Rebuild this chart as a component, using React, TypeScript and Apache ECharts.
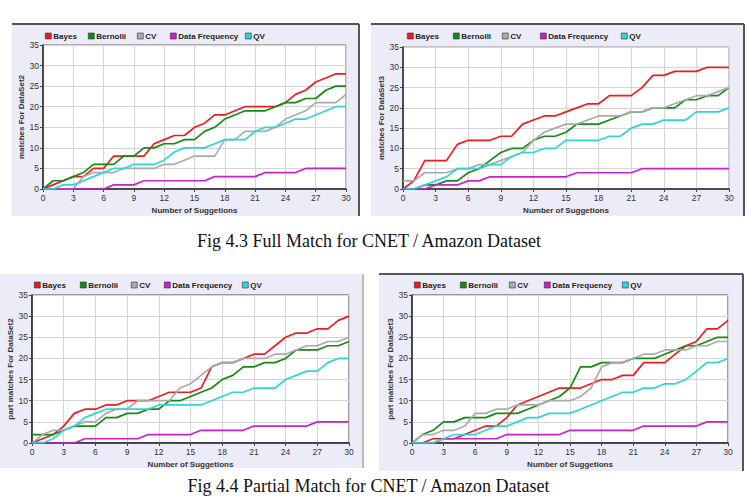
import React, { useEffect, useRef } from "react";
import * as echarts from "echarts";

const seriesNames = ["Bayes", "Bernolli", "CV", "Data Frequency", "QV"];
const seriesColors = ["#ee1c1c", "#158a15", "#aaaaaa", "#cc1fcc", "#2cd6d6"];
const suggestions = Array.from({ length: 31 }, (_, i) => i);

const xAxisName = "Number of Suggetions";
const yAxisNames = [
  "matches For DataSet2",
  "matches For DataSet3",
  "part matches For DataSet2",
  "part matches For DataSet3",
];
const captions = [
  "Fig 4.3 Full Match for CNET / Amazon Dataset",
  "Fig 4.4 Partial Match for CNET / Amazon Dataset",
];

// Fig 4.3 left: full matches, DataSet2
const fullDs2Bayes = [0,1,2,3,3,5,5,8,8,8,8,11,12,13,13,15,16,18,18,19,20,20,20,20,21,23,24,26,27,28,28];
const fullDs2Bernolli = [0,2,2,3,4,6,6,6,8,8,10,10,11,11,12,12,14,15,17,18,19,19,19,20,21,21,22,22,24,25,25];
const fullDs2CV = [0,0,0,0,3,4,4,4,5,5,5,5,6,6,7,8,8,8,12,12,14,14,14,15,17,18,19,21,21,21,23];
const fullDs2DataFreq = [0,0,0,0,0,0,0,1,1,1,2,2,2,2,2,2,2,3,3,3,3,3,4,4,4,4,5,5,5,5,5];
const fullDs2QV = [0,0,1,1,2,3,4,5,5,6,6,6,7,9,10,10,10,11,12,12,12,14,15,15,16,17,17,18,19,20,20];

// Fig 4.3 right: full matches, DataSet3
const fullDs3Bayes = [0,2,7,7,7,11,12,12,12,13,13,16,17,18,18,19,20,21,21,23,23,23,25,28,28,29,29,29,30,30,30];
const fullDs3Bernolli = [0,0,1,1,2,2,4,5,7,9,10,10,12,13,13,14,16,16,16,17,18,19,19,20,20,20,22,22,23,23,25];
const fullDs3CV = [2,2,4,4,4,5,5,6,6,7,8,9,12,14,15,16,16,17,18,18,18,19,19,20,20,21,22,23,23,24,25];
const fullDs3DataFreq = [0,0,0,1,1,1,2,2,3,3,3,3,3,3,3,3,4,4,4,4,4,4,5,5,5,5,5,5,5,5,5];
const fullDs3QV = [0,0,1,2,3,5,5,5,6,6,8,9,9,10,10,12,12,12,12,13,13,15,16,16,17,17,17,19,19,19,20];

// Fig 4.4 left: partial matches, DataSet2
const partDs2Bayes = [0,1,2,4,7,8,8,9,9,10,10,10,11,12,12,12,13,18,19,19,20,21,21,23,25,26,26,27,27,29,30];
const partDs2Bernolli = [2,2,2,3,4,4,4,6,6,7,7,8,8,10,10,11,12,13,15,16,18,18,19,19,20,22,22,22,23,23,24];
const partDs2CV = [0,2,3,3,4,5,5,7,8,8,10,10,10,10,13,14,16,18,19,19,20,20,20,21,21,22,23,23,24,24,25];
const partDs2DataFreq = [0,0,0,0,0,1,1,1,1,1,1,2,2,2,2,2,3,3,3,3,3,4,4,4,4,4,4,5,5,5,5];
const partDs2QV = [0,0,1,3,4,6,7,8,8,8,8,8,9,9,9,9,9,10,11,12,12,13,13,13,15,16,17,17,19,20,20];

// Fig 4.4 right: partial matches, DataSet3
const partDs3Bayes = [0,0,1,1,1,2,3,4,4,6,9,10,11,12,13,13,13,14,15,15,16,16,19,19,19,21,23,24,27,27,29];
const partDs3Bernolli = [0,2,3,5,5,6,6,6,7,7,7,8,9,10,11,13,18,18,19,19,19,20,20,20,21,22,23,23,24,25,25];
const partDs3CV = [0,2,2,3,3,4,7,7,8,8,9,9,9,10,10,10,11,13,18,19,19,20,21,21,22,22,22,23,23,24,24];
const partDs3DataFreq = [0,0,0,1,1,1,1,1,1,2,2,2,2,2,2,3,3,3,3,3,3,3,4,4,4,4,4,4,5,5,5];
const partDs3QV = [0,0,0,1,2,2,2,3,4,4,5,6,6,7,7,7,8,9,10,11,12,12,13,13,14,14,15,17,19,19,20];

const panelData = [
  [fullDs2Bayes, fullDs2Bernolli, fullDs2CV, fullDs2DataFreq, fullDs2QV],
  [fullDs3Bayes, fullDs3Bernolli, fullDs3CV, fullDs3DataFreq, fullDs3QV],
  [partDs2Bayes, partDs2Bernolli, partDs2CV, partDs2DataFreq, partDs2QV],
  [partDs3Bayes, partDs3Bernolli, partDs3CV, partDs3DataFreq, partDs3QV],
];

// layout (positions only)
const gridLayouts = [
  { left: 43, top: 45, width: 303, height: 144, yNameGap: 12, gridBorder: "#666" },
  { left: 403, top: 47, width: 326, height: 142, yNameGap: 14, gridBorder: "#999" },
  { left: 32, top: 295, width: 317, height: 148, yNameGap: 13, gridBorder: "#444" },
  { left: 412, top: 295, width: 316, height: 148, yNameGap: 14, gridBorder: "#444" },
];
const legendLayouts = [
  { xs: [45, 88, 137, 170, 245], cy: 37 },
  { xs: [407, 453, 502, 540, 621], cy: 37 },
  { xs: [34, 80, 131, 164, 242], cy: 286 },
  { xs: [414, 460, 509, 544, 622], cy: 286 },
];
const panelRects = [
  { x: 12, y: 24, w: 347, h: 192 },
  { x: 371, y: 24, w: 373, h: 192 },
  { x: 0, y: 274, w: 363, h: 194 },
  { x: 379, y: 274, w: 364, h: 197 },
];

const FONT = "'Liberation Sans', Arial, sans-serif";
const SERIF = "18px 'Liberation Serif', 'Times New Roman', serif";

export default function App() {
  const ref = useRef<HTMLDivElement>(null);
  useEffect(() => {
    if (!ref.current) return;
    const chart = echarts.init(ref.current, undefined, { renderer: "svg" });

    const grid: any[] = [];
    const xAxis: any[] = [];
    const yAxis: any[] = [];
    const series: any[] = [];
    const legend: any[] = [];

    gridLayouts.forEach((g, p) => {
      grid.push({
        left: g.left, top: g.top, width: g.width, height: g.height,
        show: true, backgroundColor: "#ffffff", borderColor: g.gridBorder, borderWidth: 1,
      });
      xAxis.push({
        gridIndex: p, type: "value", min: 0, max: 30, interval: 3,
        name: xAxisName, nameLocation: "middle", nameGap: 17,
        nameTextStyle: { fontSize: 8, fontWeight: "bold", color: "#333", fontFamily: FONT },
        axisLine: { lineStyle: { color: "#222", width: 1.5 } },
        axisTick: { show: true, length: 3, lineStyle: { color: "#444" } },
        axisLabel: { fontSize: 8.5, color: "#333", margin: 4, fontFamily: FONT },
        splitLine: { show: true, lineStyle: { color: "#d4d4d4", width: 1 } },
      });
      yAxis.push({
        gridIndex: p, type: "value", min: 0, max: 35, interval: 5,
        name: yAxisNames[p], nameLocation: "middle", nameGap: g.yNameGap,
        nameTextStyle: { fontSize: 8, fontWeight: "bold", color: "#333", fontFamily: FONT },
        axisLine: { show: true, lineStyle: { color: "#222", width: 1.5 } },
        axisTick: { show: true, length: 3, lineStyle: { color: "#444" } },
        axisLabel: { fontSize: 8.5, color: "#333", margin: 4, fontFamily: FONT },
        splitLine: { show: true, lineStyle: { color: "#d4d4d4", width: 1 } },
      });
      panelData[p].forEach((vals, s) => {
        series.push({
          type: "line",
          name: seriesNames[s],
          xAxisIndex: p,
          yAxisIndex: p,
          data: suggestions.map((x, i) => [x, vals[i]]),
          showSymbol: false,
          symbol: "none",
          lineStyle: { color: seriesColors[s], width: 1.7 },
          itemStyle: { color: seriesColors[s] },
          z: 2 + s,
        });
      });
      legendLayouts[p].xs.forEach((lx, s) => {
        legend.push({
          data: [seriesNames[s]],
          left: lx,
          top: legendLayouts[p].cy - 5,
          padding: 0,
          icon: "rect",
          itemWidth: 6,
          itemHeight: 6,
          itemGap: 0,
          selectedMode: false,
          itemStyle: { borderColor: "#333", borderWidth: 0.6 },
          textStyle: { fontSize: 8, fontWeight: "bold", color: "#222", fontFamily: FONT, padding: [0, 0, 0, -3] },
        });
      });
    });

    const graphics: any[] = [];
    panelRects.forEach((r) => {
      graphics.push({
        type: "rect", z: -10, silent: true,
        shape: { x: r.x, y: r.y, width: r.w, height: r.h },
        style: { fill: "#ececf8" },
      });
    });
    const darkLine = { stroke: "#555", lineWidth: 2 };
    graphics.push(
      { type: "line", z: 50, shape: { x1: 12, y1: 24, x2: 359, y2: 24 }, style: darkLine },
      { type: "line", z: 50, shape: { x1: 359, y1: 24, x2: 359, y2: 216 }, style: darkLine },
      { type: "line", z: 50, shape: { x1: 371, y1: 24, x2: 744, y2: 24 }, style: darkLine },
      { type: "line", z: 50, shape: { x1: 744, y1: 24, x2: 744, y2: 216 }, style: darkLine },
      { type: "line", z: 50, shape: { x1: 363, y1: 274, x2: 363, y2: 468 }, style: { stroke: "#bbb", lineWidth: 2 } },
      { type: "line", z: 50, shape: { x1: 379, y1: 274, x2: 743, y2: 274 }, style: darkLine },
      { type: "line", z: 50, shape: { x1: 743, y1: 274, x2: 743, y2: 471 }, style: darkLine },
      {
        type: "text", z: 50, x: 369, y: 241,
        style: { text: captions[0], fill: "#111", font: SERIF, textAlign: "center", textVerticalAlign: "middle" },
      },
      {
        type: "text", z: 50, x: 368.5, y: 486,
        style: { text: captions[1], fill: "#111", font: SERIF, textAlign: "center", textVerticalAlign: "middle" },
      }
    );

    chart.setOption({
      animation: false,
      backgroundColor: "#ffffff",
      textStyle: { fontFamily: FONT },
      grid,
      xAxis,
      yAxis,
      legend,
      series,
      graphic: graphics,
    });
    return () => chart.dispose();
  }, []);

  return (
    <div
      ref={ref}
      style={{ position: "absolute", left: 0, top: 0, width: 749, height: 496 }}
    />
  );
}
